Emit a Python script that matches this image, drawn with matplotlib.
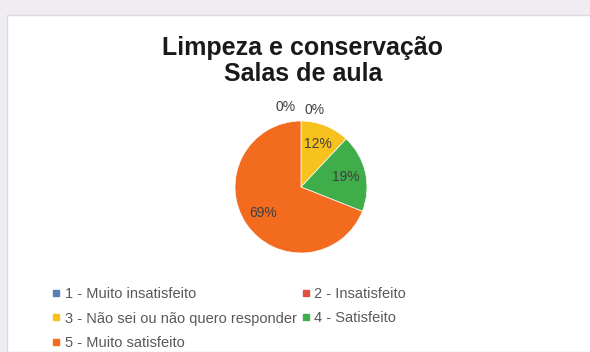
import numpy as np
import matplotlib.pyplot as plt
from matplotlib.patches import Rectangle
from matplotlib.lines import Line2D

plt.rcParams['font.family'] = ['Liberation Sans', 'DejaVu Sans']

# data
categories = ['1 - Muito insatisfeito', '2 - Insatisfeito',
              '3 - Não sei ou não quero responder', '4 - Satisfeito',
              '5 - Muito satisfeito']
values = [0, 0, 12, 19, 69]
colors = ['#5B7DB8', '#E0503E', '#F7C21E', '#3FAE4A', '#F26B1F']
title = 'Limpeza e conservação\nSalas de aula'

W, H = 590, 352
fig = plt.figure(figsize=(W / 100, H / 100), dpi=100)
fig.patch.set_facecolor('#EFEDF1')

# white chart panel (behind the axes)
fig.patches.append(Rectangle((7 / W, 0), 1, 1 - 15 / H, transform=fig.transFigure,
                             facecolor='white', edgecolor='#DCDADE', linewidth=1.0,
                             zorder=-5))

fig.text(303 / W, 1 - 36 / H, title, ha='center', va='top', fontsize=18,
         fontweight='bold', color='#1a1a1a', linespacing=1.1)

# pie axes: centre (301, 187), radius 66 px
r = 66
ax = fig.add_axes([(301 - r) / W, 1 - (187 + r) / H, 2 * r / W, 2 * r / H])
ax.patch.set_visible(False)
wedges, texts = ax.pie(values, colors=colors, startangle=90, counterclock=False,
                       radius=1.0, wedgeprops=dict(linewidth=0.5, edgecolor='white'))
ax.set_xlim(-1, 1)
ax.set_ylim(-1, 1)
ax.set_aspect('equal')

# percentage labels
lab_kw = dict(ha='center', va='center', fontsize=10, color='#404040')
theta = 90.0
for v in values:
    span = v / sum(values) * 360
    mid = theta - span / 2
    theta -= span
    if v > 0:
        a = np.deg2rad(mid)
        ax.text(0.7 * np.cos(a), 0.7 * np.sin(a), f'{v}%', **lab_kw)
# the two empty slices sit at the top
ax.text(-0.24, 1.21, '0%', clip_on=False, **lab_kw)
ax.text(0.2, 1.17, '0%', clip_on=False, **lab_kw)

# legend, row-major order
handles = [Line2D([], [], linestyle='none', marker='s', markersize=4,
                  markerfacecolor=c, markeredgecolor=c) for c in colors]
order = [0, 2, 4, 1, 3]
leg = fig.legend([handles[i] for i in order], [categories[i] for i in order],
                 ncol=2, loc='upper left', bbox_to_anchor=(52 / W, 1 - 287 / H),
                 frameon=False, fontsize=10.5, handlelength=0.6, handletextpad=0.3,
                 columnspacing=0.3, labelspacing=0.72, borderaxespad=0, borderpad=0)
for t in leg.get_texts():
    t.set_color('#595959')

fig.savefig('out.png', dpi=100, facecolor=fig.get_facecolor())
